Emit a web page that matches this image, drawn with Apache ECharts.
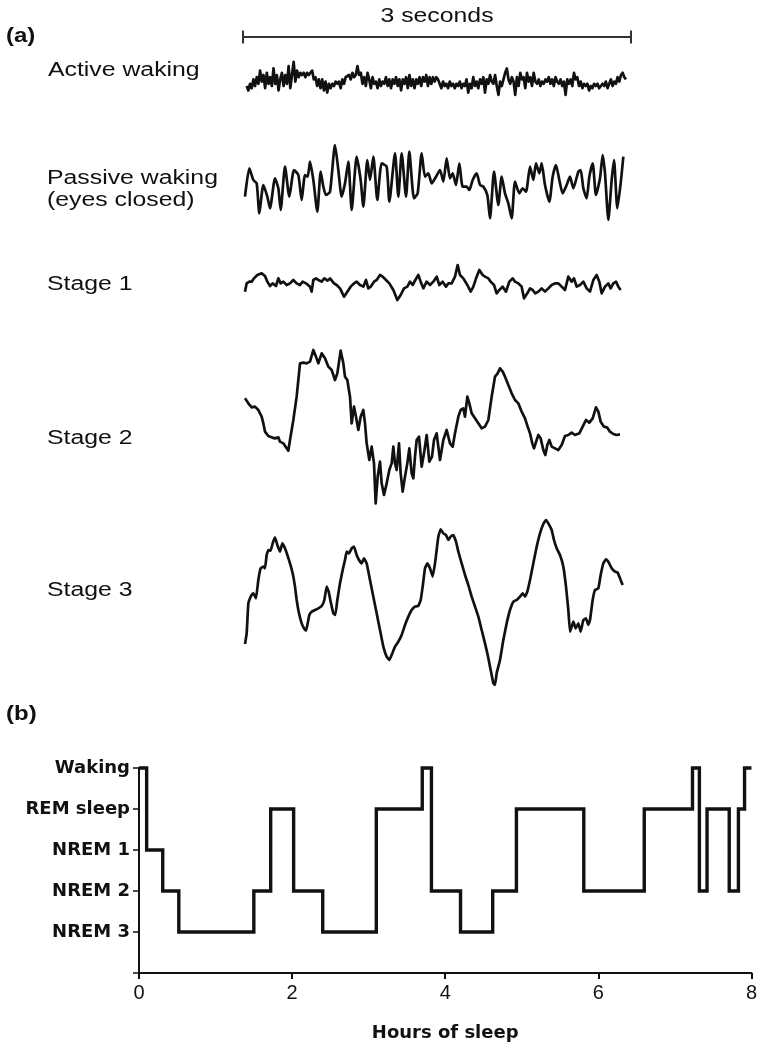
<!DOCTYPE html>
<html><head><meta charset="utf-8">
<script src="https://cdn.jsdelivr.net/npm/echarts@6/dist/echarts.min.js"></script>
<style>html,body{margin:0;padding:0;background:#fff}#c{width:760px;height:1045px}</style>
</head><body><div id="c"></div>
<script>
// ---------- (a) EEG traces: time in samples (1164 samples = 3 s, starting at 39), deflection (axis inverted) ----------
const activeWaking = [75,85,70,80,60,75,55,70,40,65,50,80,45,70,55,75,35,70,50,85,60,45,75,50,70,30,80,50,20,65,40,55,45,50,45,55,45,50,45,40,60,55,75,60,80,60,85,65,90,70,80,70,75,65,70,65,80,60,70,55,55,50,60,45,55,50,30,50,45,70,55,75,45,60,80,55,70,65,80,60,75,65,70,55,75,60,80,60,70,55,75,60,85,60,70,55,80,50,75,60,80,60,70,55,75,55,65,50,75,55,70,55,65,55,60,
 70,80,65,75,70,80,65,75,70,80,70,75,65,80,70,75,60,90,70,80,55,75,65,80,60,70,55,90,60,70,50,65,70,50,75,95,65,75,60,45,35,60,70,55,65,95,55,75,45,60,55,80,45,65,55,75,45,65,70,60,75,65,70,60,65,55,70,60,75,55,65,70,60,75,65,95,60,70,60,75,45,60,55,75,65,80,70,75,70,85,75,80,70,75,70,80,75,70,75,65,80,70,60,75,65,70,55,65,50,45,55,60];
const activeStart = 50, activeEnd = 1188;

const passiveWaking = [[45,200],[58,115],[70,150],[80,160],[88,250],[100,165],[112,200],[120,235],[135,145],[145,175],[152,240],[165,110],[178,200],[192,120],[205,135],[215,210],[225,135],[233,140],[240,95],[250,150],[262,245],[272,125],[280,170],[288,195],[300,185],[315,45],[325,120],[335,200],[345,160],[355,95],[365,240],[380,80],[392,150],[400,230],[412,90],[420,150],[430,80],[442,210],[455,100],[470,110],[478,215],[495,70],[505,200],[515,70],[528,200],[538,65],[552,205],[563,190],[575,70],[585,140],[595,130],[605,160],[618,140],[630,120],[640,155],[650,85],[660,145],[668,130],[678,165],[688,100],[698,170],[710,170],[718,180],[728,150],[740,130],[750,165],[760,170],[772,195],[780,265],[792,125],[805,225],[815,140],[825,190],[835,220],[845,265],[855,155],[868,190],[878,175],[888,185],[900,110],[910,150],[918,100],[928,130],[935,100],[945,165],[958,215],[968,140],[978,105],[988,150],[998,190],[1010,165],[1020,140],[1030,175],[1045,125],[1052,120],[1060,175],[1070,205],[1078,140],[1088,100],[1098,195],[1110,145],[1118,75],[1125,130],[1135,270],[1145,150],[1152,90],[1162,235],[1172,160],[1180,80]];

const stage1 = [[45,125],[50,100],[58,95],[65,95],[72,85],[82,75],[95,70],[105,78],[112,95],[120,108],[128,100],[138,108],[145,85],[152,100],[160,95],[170,105],[180,100],[190,90],[200,100],[210,105],[218,95],[228,100],[240,110],[245,125],[250,90],[258,85],[265,90],[275,95],[283,85],[293,92],[300,85],[312,100],[320,105],[330,115],[342,140],[352,125],[362,110],[372,100],[380,95],[390,105],[400,110],[408,90],[415,115],[422,110],[432,95],[440,90],[450,75],[458,80],[468,90],[478,100],[490,120],[502,150],[512,135],[522,115],[532,110],[540,95],[548,105],[556,90],[565,75],[572,95],[580,115],[590,95],[600,105],[610,95],[620,80],[628,105],[638,95],[648,110],[655,100],[665,100],[675,80],[683,45],[690,75],[700,85],[712,105],[722,125],[730,110],[740,80],[748,60],[758,75],[765,80],[775,85],[782,95],[792,105],[800,130],[808,120],[818,110],[828,125],[838,95],[848,85],[855,95],[865,100],[875,110],[882,145],[892,130],[900,115],[908,120],[916,130],[925,125],[935,115],[945,125],[955,115],[965,105],[975,100],[985,100],[995,110],[1005,120],[1015,80],[1025,95],[1032,85],[1040,110],[1050,105],[1060,95],[1070,115],[1080,125],[1090,90],[1100,75],[1108,95],[1115,130],[1125,110],[1135,100],[1142,115],[1150,100],[1158,95],[1165,110],[1172,120]];

const stage2 = [[45,205],[55,220],[65,232],[75,230],[85,240],[95,260],[100,280],[105,305],[115,318],[125,322],[135,325],[145,322],[150,335],[160,340],[170,355],[175,362],[180,330],[190,270],[200,200],[205,150],[210,100],[220,98],[230,100],[240,95],[250,60],[258,80],[265,100],[275,70],[285,85],[295,110],[305,120],[315,150],[322,130],[332,62],[340,100],[345,140],[352,150],[360,200],[365,280],[372,230],[378,260],[385,300],[392,260],[400,240],[405,280],[410,340],[418,390],[425,350],[432,400],[437,520],[443,440],[450,395],[455,460],[462,495],[470,460],[478,420],[485,400],[490,350],[495,400],[500,420],[507,340],[512,430],[518,485],[525,440],[532,400],[538,355],[545,430],[550,445],[555,380],[560,330],[567,320],[575,410],[582,370],[590,315],[598,395],[606,380],[612,330],[620,310],[630,390],[640,330],[650,300],[660,340],[668,350],[675,310],[685,260],[692,240],[700,235],[705,260],[712,200],[718,220],[725,250],[735,265],[745,280],[755,295],[765,290],[775,270],[785,200],[795,140],[803,130],[810,115],[818,125],[825,140],[835,165],[845,190],[855,210],[865,220],[875,245],[885,265],[893,290],[900,310],[907,340],[912,355],[920,330],[925,315],[932,325],[940,360],[946,375],[952,345],[958,330],[965,350],[975,355],[985,360],[995,345],[1005,318],[1015,315],[1025,308],[1035,315],[1048,310],[1058,290],[1068,270],[1078,278],[1088,265],[1098,232],[1105,245],[1112,275],[1122,290],[1132,293],[1140,305],[1150,312],[1160,315],[1170,313]];

const stage3 = [[45,432],[50,400],[55,310],[60,295],[65,285],[70,280],[78,295],[85,240],[92,205],[100,200],[105,205],[110,165],[115,150],[122,152],[128,130],[135,112],[142,135],[150,155],[157,130],[165,145],[172,165],[180,190],[188,220],[195,260],[200,300],[207,340],[215,370],[222,385],[228,392],[233,370],[238,345],[245,335],[255,330],[265,325],[275,318],[283,300],[290,260],[296,275],[303,310],[310,340],[316,345],[322,300],[330,250],[338,210],[345,180],[350,155],[357,160],[365,145],[372,140],[380,165],[387,180],[395,190],[402,175],[410,190],[420,240],[430,290],[440,340],[450,390],[460,440],[470,470],[478,480],[485,465],[495,440],[505,425],[515,405],[525,375],[535,350],[545,330],[555,320],[565,318],[572,300],[578,260],[585,205],[592,190],[600,205],[608,230],[615,190],[620,150],[625,110],[632,88],[640,100],[648,105],[655,120],[662,110],[670,105],[678,125],[685,155],[695,190],[705,225],[715,255],[725,290],[735,320],[745,350],[755,390],[765,430],[772,460],[778,490],[785,525],[790,550],[795,555],[800,520],[810,480],[820,420],[830,370],[840,330],[850,305],[860,300],[870,290],[878,280],[885,290],[892,275],[900,240],[910,190],[920,140],[930,100],[940,72],[948,60],[955,70],[965,90],[972,120],[980,145],[990,165],[1000,200],[1008,260],[1015,330],[1020,395],[1025,380],[1030,365],[1037,385],[1045,370],[1052,395],[1060,360],[1068,355],[1075,375],[1080,360],[1088,300],[1095,270],[1105,265],[1112,225],[1120,190],[1128,178],[1135,185],[1145,205],[1155,215],[1163,218],[1170,235],[1178,255]];

const traceLabels = ['Active waking', 'Passive waking', '(eyes closed)', 'Stage 1', 'Stage 2', 'Stage 3'];
const scaleBarSeconds = [0, 3];

// ---------- (b) hypnogram ----------
const stageNames = ['', 'NREM 3', 'NREM 2', 'NREM 1', 'REM sleep', 'Waking'];
const hypnoTimes  = [0, 0.1, 0.31, 0.52, 1.5, 1.72, 2.02, 2.4, 3.1, 3.7, 3.82, 4.2, 4.62, 4.93, 5.81, 6.6, 7.23, 7.32, 7.42, 7.71, 7.83, 7.91, 8.0];
const hypnoLevels = [5,   3,   2,    1,    2,   4,    2,    1,   4,   5,   2,    1,   2,    4,    2,    4,   5,    2,    4,    2,    4,    5,    5];
const hoursTicks = [0, 2, 4, 6, 8];

const FONT = "'Liberation Sans', Arial, Helvetica, sans-serif";
const BOLDFONT = "'DejaVu Sans', 'Liberation Sans', Arial, sans-serif";
const INK = '#111';

const chart = echarts.init(document.getElementById('c'), null, {renderer: 'canvas'});

const traceGrids = [
  {top: 53, height: 59.4, max: 135, smooth: 0},
  {top: 130, height: 100, max: 300, smooth: 0.2},
  {top: 250, height: 60, max: 180, smooth: 0},
  {top: 330, height: 180, max: 540, smooth: 0},
  {top: 500, height: 190, max: 570, smooth: 0.1}
];
const activePairs = activeWaking.map((v, i) => [activeStart + i * (activeEnd - activeStart) / (activeWaking.length - 1), v]);
const traceData = [activePairs, passiveWaking, stage1, stage2, stage3];

const grids = [], xAxes = [], yAxes = [], series = [];
traceGrids.forEach((g, i) => {
  grids.push({left: 243, width: 388, top: g.top, height: g.height, containLabel: false});
  xAxes.push({gridIndex: i, type: 'value', min: 39, max: 1203, show: false});
  yAxes.push({gridIndex: i, type: 'value', min: 0, max: g.max, inverse: true, show: false});
  series.push({type: 'line', xAxisIndex: i, yAxisIndex: i, data: traceData[i], showSymbol: false, smooth: g.smooth,
    lineStyle: {color: INK, width: 2.7, join: 'round'}, clip: false, silent: true, animation: false});
});
// scale bar grid (seconds)
grids.push({left: 243, width: 388, top: 30, height: 14});
xAxes.push({gridIndex: 5, type: 'value', min: 0, max: 3, show: false});
yAxes.push({gridIndex: 5, type: 'value', min: -1, max: 1, show: false});
series.push({type: 'line', xAxisIndex: 5, yAxisIndex: 5, data: scaleBarSeconds.map(s => [s, 0]),
  symbol: 'rect', symbolSize: [2, 13], showSymbol: true, itemStyle: {color: '#333'},
  lineStyle: {color: '#333', width: 2}, silent: true, animation: false, clip: false});
// hypnogram grid
grids.push({left: 139, width: 616, top: 768, height: 205});
xAxes.push({gridIndex: 6, type: 'value', min: 0, max: 8, interval: 2,
  axisLine: {show: true, lineStyle: {color: INK, width: 2}},
  axisTick: {show: true, length: 6, lineStyle: {color: INK, width: 2}},
  splitLine: {show: false},
  axisLabel: {color: INK, fontSize: 20, fontFamily: FONT, margin: 10},
  name: 'Hours of sleep', nameLocation: 'middle', nameGap: 51,
  nameTextStyle: {color: INK, fontSize: 18, fontWeight: 'bold', fontFamily: BOLDFONT}});
yAxes.push({gridIndex: 6, type: 'value', min: 0, max: 5, interval: 1,
  axisLine: {show: true, lineStyle: {color: INK, width: 2}},
  axisTick: {show: true, length: 6, lineStyle: {color: INK, width: 1.5}},
  splitLine: {show: false},
  axisLabel: {color: INK, fontSize: 18, fontWeight: 'bold', fontFamily: BOLDFONT, margin: 9,
    formatter: v => stageNames[v] || ''}});
series.push({type: 'line', xAxisIndex: 6, yAxisIndex: 6, step: 'end',
  data: hypnoTimes.map((t, i) => [t, hypnoLevels[i]]), showSymbol: false,
  lineStyle: {color: INK, width: 3.4, join: 'miter'}, clip: false, silent: true, animation: false});

function label(text, x, y, opts = {}) {
  return {type: 'text', x: x, y: y, scaleX: opts.sx || 1.24, silent: true,
    style: {text: text, fill: INK, font: (opts.bold ? 'bold ' : '') + (opts.size || 20) + 'px ' + FONT,
      textAlign: opts.align || 'left', textVerticalAlign: 'middle'}};
}
const graphic = [
  label('(a)', 6, 36, {bold: true, size: 20, sx: 1.2}),
  label('3 seconds', 437, 16, {align: 'center'}),
  label(traceLabels[0], 48, 70),
  label(traceLabels[1], 47, 178),
  label(traceLabels[2], 47, 200),
  label(traceLabels[3], 47, 284),
  label(traceLabels[4], 47, 438),
  label(traceLabels[5], 47, 590),
  label('(b)', 6, 714, {bold: true, size: 20, sx: 1.2})
];

chart.setOption({
  animation: false,
  backgroundColor: '#fff',
  grid: grids, xAxis: xAxes, yAxis: yAxes, series: series, graphic: graphic
});
</script></body></html>
